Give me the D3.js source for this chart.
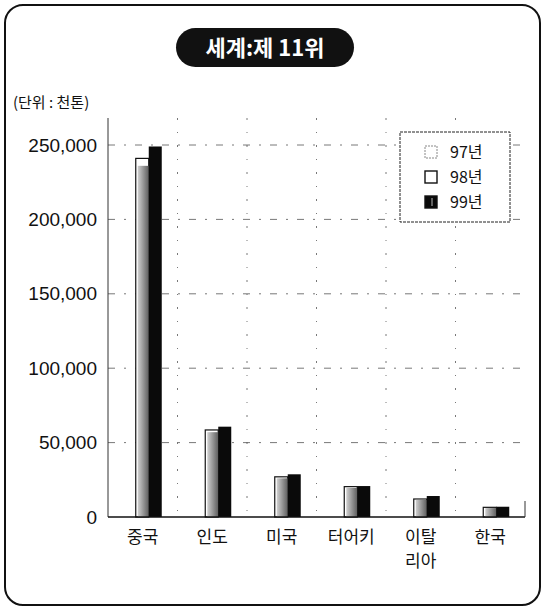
<!DOCTYPE html>
<html>
<head>
<meta charset="utf-8">
<script src="https://cdn.jsdelivr.net/npm/d3@7"></script>
<style>
  body { margin: 0; background: #fff; }
  svg { display: block; }
</style>
</head>
<body>
<div id="chart"></div>
<script>
// Data (단위: 천톤)
const countries = ["중국", "인도", "미국", "터어키", "이탈리아", "한국"];
const countryLines = [["중국"], ["인도"], ["미국"], ["터어키"], ["이탈", "리아"], ["한국"]];
const years = ["97년", "98년", "99년"];
const v97 = [236000, 57000, 26000, 19500, 11500, 6000];
const v98 = [241000, 58500, 27000, 20400, 12100, 6500];
const v99 = [249000, 60700, 28700, 20800, 14100, 6900];
const yTicks = [0, 50000, 100000, 150000, 200000, 250000];

const W = 544, H = 609;
const plot = { left: 108, right: 525, top: 118, bottom: 517 };

const svg = d3.select("#chart")
    .append("svg")
    .attr("width", W)
    .attr("height", H);

const defs = svg.append("defs");
const grad = defs.append("linearGradient")
    .attr("id", "stip")
    .attr("x1", "0").attr("x2", "1").attr("y1", "0").attr("y2", "0");
grad.append("stop").attr("offset", "0%").attr("stop-color", "#d0d0d0");
grad.append("stop").attr("offset", "100%").attr("stop-color", "#5e5e5e");

// Outer rounded frame
svg.append("rect")
    .attr("x", 5).attr("y", 5)
    .attr("width", 535).attr("height", 600)
    .attr("rx", 18).attr("ry", 18)
    .attr("fill", "none")
    .attr("stroke", "#111")
    .attr("stroke-width", 2);

// Title pill
const title = svg.append("g");
title.append("rect")
    .attr("x", 176).attr("y", 28)
    .attr("width", 178).attr("height", 39)
    .attr("rx", 19.5).attr("ry", 19.5)
    .attr("fill", "#111");
title.append("text")
    .attr("x", 265).attr("y", 56)
    .attr("text-anchor", "middle")
    .attr("fill", "#fff")
    .style("font-family", "'Noto Sans CJK KR'")
    .style("font-size", "22px")
    .style("font-weight", 700)
    .text("세계:제 11위");

// Unit label
svg.append("text")
    .attr("x", 13).attr("y", 108)
    .style("font-family", "'Noto Sans CJK KR'")
    .style("font-size", "15px")
    .attr("fill", "#111")
    .text("(단위 : 천톤)");

// Scales
const x = d3.scaleBand()
    .domain(countries)
    .range([plot.left, plot.right])
    .padding(0);

const y = d3.scaleLinear()
    .domain([0, 250000])
    .range([plot.bottom, 145]);

// Horizontal grid
svg.append("g")
    .selectAll("line")
    .data(yTicks.filter(d => d > 0))
    .join("line")
    .attr("x1", plot.left).attr("x2", plot.right)
    .attr("y1", d => y(d)).attr("y2", d => y(d))
    .attr("stroke", "#555")
    .attr("stroke-width", 0.8)
    .attr("stroke-dasharray", "7,9,2,9");

// Vertical grid at band boundaries
svg.append("g")
    .selectAll("line")
    .data(countries.slice(1))
    .join("line")
    .attr("x1", d => x(d)).attr("x2", d => x(d))
    .attr("y1", plot.top).attr("y2", plot.bottom)
    .attr("stroke", "#555")
    .attr("stroke-width", 0.8)
    .attr("stroke-dasharray", "2,12,1,12");

// Y axis
const yAxis = svg.append("g")
    .attr("transform", `translate(${plot.left},0)`)
    .call(d3.axisLeft(y)
        .tickValues(yTicks)
        .tickSize(0)
        .tickPadding(11)
        .tickFormat(d3.format(",")));
yAxis.select(".domain").remove();
yAxis.selectAll("text")
    .style("font-family", "'Liberation Sans', Arial, sans-serif")
    .style("font-size", "19px")
    .attr("fill", "#111");

svg.append("line")
    .attr("x1", plot.left).attr("x2", plot.left)
    .attr("y1", plot.top).attr("y2", plot.bottom)
    .attr("stroke", "#333")
    .attr("stroke-width", 1);

// Bars
const bars = svg.append("g");
const cx = i => x(countries[i]) + x.bandwidth() / 2;

// 98 (white, outlined) behind
bars.selectAll(".b98")
    .data(v98)
    .join("rect")
    .attr("class", "b98")
    .attr("x", (d, i) => cx(i) - 7)
    .attr("y", d => y(d))
    .attr("width", 13)
    .attr("height", d => y(0) - y(d))
    .attr("fill", "#fff")
    .attr("stroke", "#111")
    .attr("stroke-width", 1.2);

// 97 (gray stipple)
bars.selectAll(".b97")
    .data(v97)
    .join("rect")
    .attr("class", "b97")
    .attr("x", (d, i) => cx(i) - 5)
    .attr("y", d => y(d))
    .attr("width", 11)
    .attr("height", d => y(0) - y(d))
    .attr("fill", "url(#stip)");

// 99 (black)
bars.selectAll(".b99")
    .data(v99)
    .join("rect")
    .attr("class", "b99")
    .attr("x", (d, i) => cx(i) + 6)
    .attr("y", d => y(d))
    .attr("width", 13)
    .attr("height", d => y(0) - y(d))
    .attr("fill", "#0a0a0a");

// X axis line
svg.append("line")
    .attr("x1", plot.left).attr("x2", plot.right)
    .attr("y1", plot.bottom).attr("y2", plot.bottom)
    .attr("stroke", "#111")
    .attr("stroke-width", 1.6);
svg.append("line")
    .attr("x1", plot.right).attr("x2", plot.right)
    .attr("y1", plot.bottom - 16).attr("y2", plot.bottom)
    .attr("stroke", "#333")
    .attr("stroke-width", 1);

// Category labels
const xl = svg.append("g")
    .selectAll("text")
    .data(countryLines)
    .join("text")
    .attr("x", (d, i) => cx(i))
    .attr("y", 543)
    .attr("text-anchor", "middle")
    .style("font-family", "'Noto Sans CJK KR'")
    .style("font-size", "17px")
    .attr("fill", "#111");
xl.selectAll("tspan")
    .data(d => d)
    .join("tspan")
    .attr("x", function () { return this.parentNode.getAttribute("x"); })
    .attr("dy", (d, i) => i === 0 ? 0 : 24)
    .text(d => d);

// Legend
const legend = svg.append("g");
legend.append("rect")
    .attr("x", 400).attr("y", 132)
    .attr("width", 110).attr("height", 90)
    .attr("fill", "#fff")
    .attr("stroke", "#222")
    .attr("stroke-width", 1)
    .attr("stroke-dasharray", "3,1");

const legendY = [152, 177, 202];
const item = legend.selectAll(".item")
    .data(years)
    .join("g")
    .attr("class", "item")
    .attr("transform", (d, i) => `translate(425,${legendY[i]})`);

item.append("rect")
    .attr("x", 0).attr("y", -6)
    .attr("width", 12).attr("height", 12)
    .attr("fill", (d, i) => i === 2 ? "#0a0a0a" : "#fff")
    .attr("stroke", (d, i) => i === 0 ? "#888" : "#111")
    .attr("stroke-width", (d, i) => i === 0 ? 1 : 1.4)
    .attr("stroke-dasharray", (d, i) => i === 0 ? "2,1" : null);

item.filter((d, i) => i === 2)
    .append("line")
    .attr("x1", 7).attr("x2", 7)
    .attr("y1", -4).attr("y2", 4)
    .attr("stroke", "#bbb")
    .attr("stroke-width", 1);

item.append("text")
    .attr("x", 25).attr("y", 6)
    .style("font-family", "'Noto Sans CJK KR'")
    .style("font-size", "16px")
    .attr("fill", "#111")
    .text(d => d);
</script>
</body>
</html>
